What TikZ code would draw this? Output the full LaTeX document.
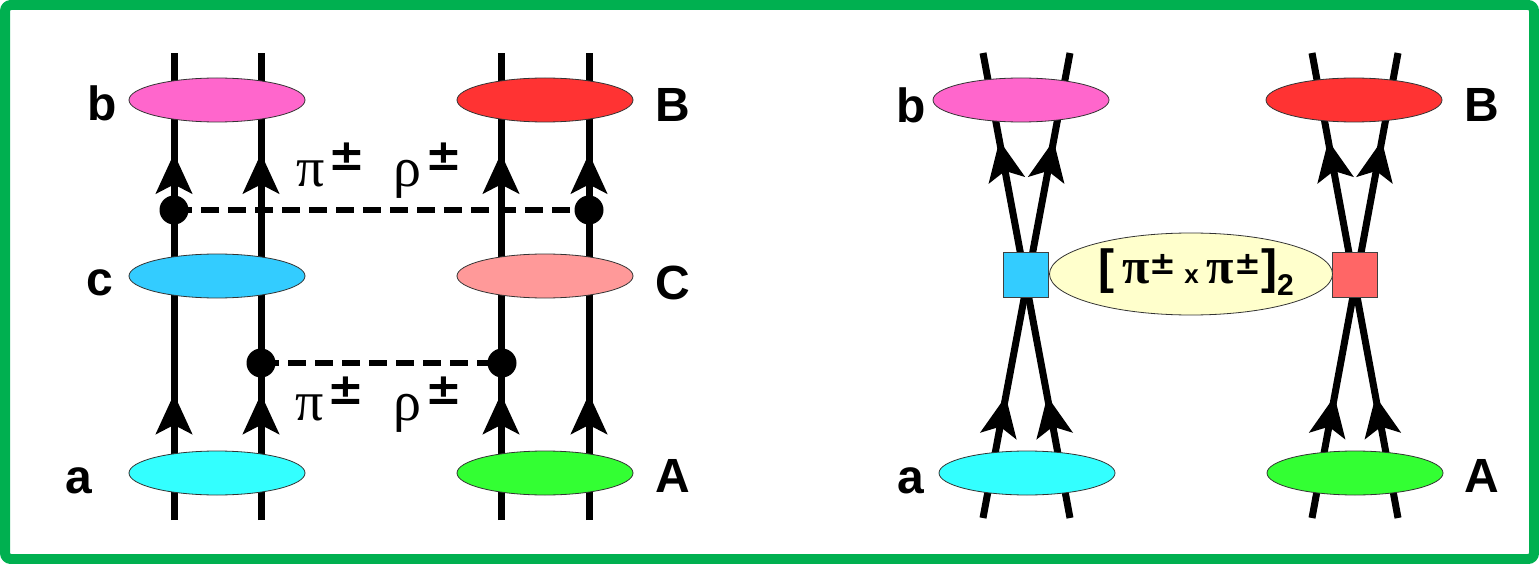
\documentclass[tikz,border=0pt]{standalone}
\usepackage{fontspec}
\setmainfont{Liberation Sans}
\newfontfamily\grk{Liberation Serif}
\newfontfamily\djv{DejaVu Sans}
\usetikzlibrary{shapes.geometric,arrows.meta,decorations.markings}
\definecolor{frameG}{HTML}{00B050}
\definecolor{colb}{HTML}{FF66CC}
\definecolor{colB}{HTML}{FF3333}
\definecolor{colc}{HTML}{33CCFF}
\definecolor{colC}{HTML}{FF9999}
\definecolor{cola}{HTML}{33FFFF}
\definecolor{colA}{HTML}{33FF33}
\definecolor{sqred}{HTML}{FF6666}
\definecolor{yell}{HTML}{FFFFCC}
\pgfdeclarelayer{bg}
\pgfdeclarelayer{back}
\pgfsetlayers{back,bg,main}
\tikzset{
  ell/.style={ellipse, draw=black!80, line width=0.8pt, minimum width=176pt, minimum height=44pt, inner sep=0pt},
  sqbox/.style={rectangle, draw=black!75, line width=0.8pt, minimum size=45pt, inner sep=0pt},
  dot/.style={circle, fill=black, minimum size=29pt, inner sep=0pt},
  lab/.style={font=\fontsize{48}{48}\selectfont\bfseries, inner sep=0pt},
  gl/.style={font=\fontsize{56}{56}\selectfont\grk, inner sep=0pt, anchor=base west},
  quark/.style={line width=7pt},
  xchg/.style={line width=6pt, dash pattern=on 18pt off 9pt},
  flow/.style 2 args={postaction={decorate}, decoration={markings,
     mark=at position #1 with {\arrow{Stealth[length=40pt,width=36pt,inset=9pt]}},
     mark=at position #2 with {\arrow{Stealth[length=40pt,width=36pt,inset=9pt]}}}},
}
\newcommand{\pmsup}{\hspace{4pt}\raisebox{16pt}{\djv\fontsize{44}{44}\selectfont\bfseries ±}}
\newcommand{\pmsm}{\raisebox{9pt}{\djv\fontsize{32}{32}\selectfont\bfseries ±}}
\begin{document}
\begin{tikzpicture}[x=1pt,y=-1pt]
\useasboundingbox (0,0) rectangle (1539,564);
\begin{pgfonlayer}{back}
\fill[white] (0,0) rectangle (1539,564);
\draw[frameG, line width=10pt, rounded corners=6pt] (5,5) rectangle (1534,559);
\end{pgfonlayer}

% ---------- left diagram ----------
\coordinate (L1t) at (174,53); \coordinate (L1b) at (174,520);
\coordinate (L2t) at (261,53); \coordinate (L2b) at (261,520);
\coordinate (L3t) at (501,53); \coordinate (L3b) at (501,520);
\coordinate (L4t) at (589,53); \coordinate (L4b) at (589,520);

\node[ell, fill=colb] (eb) at (217,100) {};
\node[ell, fill=colc] (ec) at (217,276) {};
\node[ell, fill=cola] (ea) at (217,473) {};
\node[ell, fill=colB] (eB) at (545,100) {};
\node[ell, fill=colC] (eC) at (545,276) {};
\node[ell, fill=colA] (eA) at (545,473) {};

\node[dot] (d1) at (174,210) {};
\node[dot] (d2) at (589,210) {};
\node[dot] (d3) at (261,363) {};
\node[dot] (d4) at (502,363) {};

\node[lab] (tb) at (102,103) {b};
\node[lab] (tc) at (100,283) {c};
\node[lab] (ta) at (79,481) {a};
\node[lab] (tB) at (673,105) {B};
\node[lab] (tC) at (673,283) {C};
\node[lab] (tA) at (673,476) {A};

\node[gl] (p1) at (296,187) {π\pmsup};
\node[gl] (r1) at (393,187) {ρ\pmsup};
\node[gl] (p2) at (295,420) {π\pmsup};
\node[gl] (r2) at (393,420) {ρ\pmsup};

\begin{pgfonlayer}{bg}
\draw[quark, flow={0.270}{0.785}] (L1b) -- (L1t);
\draw[quark, flow={0.270}{0.785}] (L2b) -- (L2t);
\draw[quark, flow={0.270}{0.785}] (L3b) -- (L3t);
\draw[quark, flow={0.270}{0.785}] (L4b) -- (L4t);
\draw[xchg] (d1.center) -- (d2.center);
\draw[xchg] (d3.center) -- (d4.center);
\end{pgfonlayer}

% ---------- right diagram ----------
\coordinate (R1t) at (983,53);  \coordinate (R1b) at (1070,518);
\coordinate (R2t) at (1070,53); \coordinate (R2b) at (983,518);
\coordinate (R3t) at (1312,53); \coordinate (R3b) at (1398,518);
\coordinate (R4t) at (1398,53); \coordinate (R4b) at (1312,518);

\node[ell, fill=colb] (fb) at (1021,100) {};
\node[ell, fill=cola] (fa) at (1027,473) {};
\node[ell, fill=colB] (fB) at (1354,100) {};
\node[ell, fill=colA] (fA) at (1355,473) {};

\node[sqbox, fill=colc] (s1) at (1026,275) {};
\node[sqbox, fill=sqred] (s2) at (1355,275) {};
\node[ellipse, draw=black!80, line width=0.8pt, fill=yell, minimum width=283pt, minimum height=82pt, inner sep=0pt] (yel) at (1191,274) {};
\node[inner sep=0pt, font=\bfseries] (ytext) at (1196,272) {\fontsize{48}{48}\selectfont[\,{\grk\bfseries\fontsize{50}{50}\selectfont π}\pmsm\,{\fontsize{26}{26}\selectfont x}\,{\grk\bfseries\fontsize{50}{50}\selectfont π}\pmsm]\raisebox{-12pt}{\fontsize{30}{30}\selectfont 2}};

\node[lab] (ub) at (911,105) {b};
\node[lab] (ua) at (911,481) {a};
\node[lab] (uB) at (1482,105) {B};
\node[lab] (uA) at (1482,476) {A};

\begin{pgfonlayer}{bg}
\draw[quark, flow={0.262}{0.812}] (R1b) -- (R1t);
\draw[quark, flow={0.262}{0.812}] (R2b) -- (R2t);
\draw[quark, flow={0.262}{0.812}] (R3b) -- (R3t);
\draw[quark, flow={0.262}{0.812}] (R4b) -- (R4t);
\end{pgfonlayer}
\end{tikzpicture}
\end{document}
